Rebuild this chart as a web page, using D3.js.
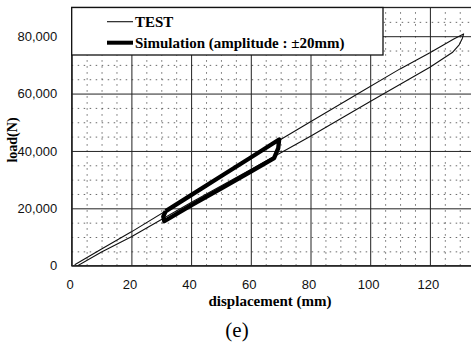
<!DOCTYPE html>
<html>
<head>
<meta charset="utf-8">
<script src="https://d3js.org/d3.v7.min.js"></script>
<style>
  body { margin: 0; background: #fff; }
  svg { display: block; }
  .tick text { font-family: "Liberation Sans", Arial, sans-serif; font-size: 13px; fill: #111; }
  .minor line { stroke: #444; stroke-width: 0.8; stroke-dasharray: 1.5,4.5; }
  .major line { stroke: #222; stroke-width: 1; }
  .domain { display: none; }
</style>
</head>
<body>
<div id="chart"></div>
<script>
// tick values
var xTicks = [0, 20, 40, 60, 80, 100, 120];
var yTicks = [0, 20000, 40000, 60000, 80000];

// TEST curve (loading branch, then unloading branch)
var testLoadX = [1, 10, 20, 40, 60, 80, 96, 110, 120, 128, 131.3];
var testLoadY = [300, 5800, 11800, 24500, 37800, 50200, 60000, 68600, 74200, 79000, 80800];
var testUnloadX = [131.3, 130.9, 129.8, 127.5, 120, 100, 80, 60, 40, 20, 10, 2];
var testUnloadY = [80800, 79300, 77000, 74300, 69200, 57200, 45100, 33500, 22000, 10100, 4800, 0];

// simulation loop (amplitude +-20mm)
var simX = [31.5, 40, 50, 60, 69.5, 69.2, 67.8, 60, 50, 40, 31, 30.7, 31.5];
var simY = [19000, 24600, 31200, 37700, 44000, 41000, 37500, 32800, 26900, 21000, 15500, 17200, 19000];

var width = 471, height = 345;
var pLeft = 71.7, pTop = 7.5, pBottom = 265.7, pRight = 489.6;

var svg = d3.select("#chart").append("svg")
  .attr("width", width)
  .attr("height", height);

var x = d3.scaleLinear().domain([0, 140]).range([pLeft, pRight]);
var y = d3.scaleLinear().domain([0, 90000]).range([pBottom, pTop]);

var xMinor = d3.range(5, 140, 5).filter(function(v){ return v % 20 != 0; });
var yMinor = d3.range(5000, 90000, 5000).filter(function(v){ return v % 20000 != 0; });

// minor dotted grid
svg.append("g").attr("class", "minor")
  .attr("transform", "translate(0," + pBottom + ")")
  .call(d3.axisBottom(x).tickValues(xMinor).tickSize(-(pBottom - pTop)).tickFormat(""));
svg.append("g").attr("class", "minor")
  .attr("transform", "translate(" + pLeft + ",0)")
  .call(d3.axisLeft(y).tickValues(yMinor).tickSize(-(pRight - pLeft)).tickFormat(""));

// major grid + labels
var gx = svg.append("g").attr("class", "major")
  .attr("transform", "translate(0," + pBottom + ")")
  .call(d3.axisBottom(x).tickValues(xTicks).tickSize(-(pBottom - pTop)).tickFormat(d3.format("d")));
gx.selectAll(".tick text").attr("y", 14).attr("dy", "0.71em").attr("dx", -2);

var gy = svg.append("g").attr("class", "major")
  .attr("transform", "translate(" + pLeft + ",0)")
  .call(d3.axisLeft(y).tickValues(yTicks).tickSize(-(pRight - pLeft)).tickFormat(d3.format(",")));
gy.selectAll(".tick text").attr("x", -14.5);

// plot frame
svg.append("rect")
  .attr("x", pLeft).attr("y", pTop)
  .attr("width", pRight - pLeft).attr("height", pBottom - pTop)
  .attr("fill", "none").attr("stroke", "#222").attr("stroke-width", 1.3);

svg.append("clipPath").attr("id", "plotclip")
  .append("rect").attr("x", pLeft).attr("y", pTop)
  .attr("width", pRight - pLeft).attr("height", pBottom - pTop);

var line = d3.line()
  .x(function(d){ return x(d[0]); })
  .y(function(d){ return y(d[1]); });

var testData = d3.zip(testLoadX.concat(testUnloadX), testLoadY.concat(testUnloadY));
var simData = d3.zip(simX, simY);

var curves = svg.append("g").attr("clip-path", "url(#plotclip)");
curves.append("path")
  .datum(testData)
  .attr("d", line)
  .attr("fill", "none")
  .attr("stroke", "#111")
  .attr("stroke-width", 1.1)
  .attr("stroke-linejoin", "round");
curves.append("path")
  .datum(simData)
  .attr("d", line)
  .attr("fill", "none")
  .attr("stroke", "#000")
  .attr("stroke-width", 4.3)
  .attr("stroke-linejoin", "round");

// legend
var legend = svg.append("g");
legend.append("rect")
  .attr("x", pLeft).attr("y", pTop)
  .attr("width", 383 - pLeft).attr("height", 55 - pTop)
  .attr("fill", "#fff").attr("stroke", "#111").attr("stroke-width", 1.3);
legend.append("line")
  .attr("x1", 107).attr("x2", 133).attr("y1", 21.7).attr("y2", 21.7)
  .attr("stroke", "#111").attr("stroke-width", 1.1);
legend.append("line")
  .attr("x1", 107).attr("x2", 133).attr("y1", 42.7).attr("y2", 42.7)
  .attr("stroke", "#000").attr("stroke-width", 4);
legend.append("text")
  .attr("x", 135).attr("y", 26.5)
  .style("font-family", "'Liberation Serif', 'Times New Roman', serif")
  .style("font-weight", "bold").style("font-size", "15px")
  .text("TEST");
legend.append("text")
  .attr("x", 135).attr("y", 47.5)
  .style("font-family", "'Liberation Serif', 'Times New Roman', serif")
  .style("font-weight", "bold").style("font-size", "15px")
  .text("Simulation (amplitude : \u00b120mm)");

// axis titles
svg.append("text")
  .attr("x", 270).attr("y", 306)
  .attr("text-anchor", "middle")
  .attr("textLength", 123).attr("lengthAdjust", "spacingAndGlyphs")
  .style("font-family", "'Liberation Serif', 'Times New Roman', serif")
  .style("font-weight", "bold").style("font-size", "14px")
  .text("displacement (mm)");

svg.append("text")
  .attr("transform", "translate(17,140) rotate(-90)")
  .attr("text-anchor", "middle")
  .style("font-family", "'Liberation Serif', 'Times New Roman', serif")
  .style("font-weight", "bold").style("font-size", "14px")
  .text("load(N)");

// caption
svg.append("text")
  .attr("x", 237).attr("y", 337)
  .attr("text-anchor", "middle")
  .style("font-family", "'Liberation Serif', 'Times New Roman', serif")
  .style("font-size", "21px")
  .text("(e)");
</script>
</body>
</html>
